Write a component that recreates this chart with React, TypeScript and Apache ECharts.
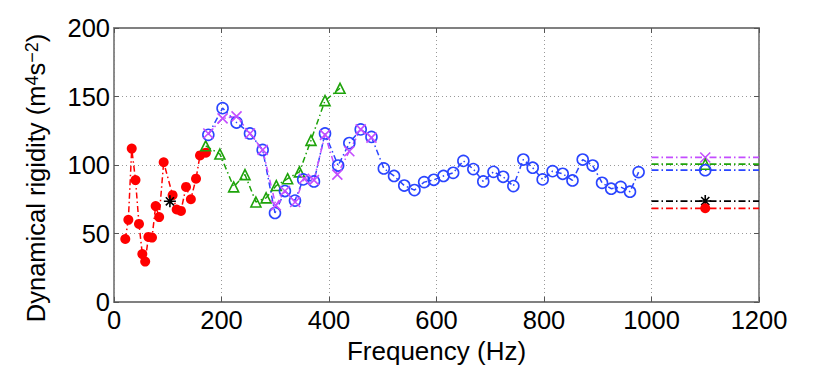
import React, { useEffect, useRef } from "react";
import * as echarts from "echarts";

const xTicks = { min: 0, max: 1200, interval: 200 };
const yTicks = { min: 0, max: 200, interval: 50 };

const redData: [number, number][] = [
  [21, 46], [26.7, 60], [33, 112], [40, 89], [46.5, 57], [52.7, 35], [58, 29.5],
  [64, 47.5], [70.7, 47], [77.5, 70], [84, 62], [92.4, 102], [109, 78], [116.6, 67.5],
  [124.6, 66.5], [134, 84], [143, 75], [152.6, 90], [160, 107], [171, 109],
];
const greenData: [number, number][] = [
  [170.6, 114], [197, 108], [222.6, 84], [243.7, 93], [264, 73], [283, 76],
  [302, 85], [323, 90], [345, 95], [366.5, 118], [392.6, 147], [420.5, 156],
];
const blueData: [number, number][] = [
  [175.5, 122], [202, 141.5], [228, 131], [253, 123], [276.6, 111], [299.5, 65],
  [318, 81], [336.7, 74], [352, 89.5], [372, 88], [392.6, 123], [417, 99.6],
  [437.8, 116], [459, 126], [479, 120.5], [502, 97.5], [521, 92], [540, 85],
  [559, 81.7], [577, 87.5], [595, 89.2], [613, 92], [631, 94.3], [650, 103],
  [668.5, 97], [687, 88], [706, 95], [724, 91.4], [743, 84.6], [761.5, 104],
  [779, 98], [797.5, 89.5], [816, 95.5], [834.8, 93.6], [853, 88.7], [872, 104],
  [890.6, 99.6], [908, 87], [925, 82.7], [942.7, 84], [960, 80.5], [976, 94.8],
];
const magentaData: [number, number][] = [
  [175.5, 123], [202, 134], [228, 135.5], [253, 123], [276.6, 111], [301, 70.5],
  [318, 81], [337, 73], [353.5, 90], [372, 89], [392.6, 122], [415.5, 93],
  [437.8, 110], [459, 126], [479, 120],
];
const blackData: [number, number][] = [[104, 73.5]];

const meanX = [1000, 1100, 1200];
const meanRed = 68.4;
const meanGreen = 100.6;
const meanBlue = 96.2;
const meanMagenta = 105.5;
const meanBlack = 73.7;

const RED = "#ff0000";
const GREEN = "#1ea30a";
const BLUE = "#2a45ff";
const MAGENTA = "#c44dff";
const BLACK = "#000000";

const DASHDOT = [6, 3, 1.5, 3];
const CROSS = "path://M0,0L10,10M10,0L0,10";
const STAR = "path://M5,0L5,10M0,5L10,5M1.6,1.6L8.4,8.4M8.4,1.6L1.6,8.4";

type Mk = { symbol: string; size: number; filled: boolean };

function mainSeries(data: [number, number][], color: string, mk: Mk) {
  return {
    type: "line",
    data,
    xAxisIndex: 0,
    yAxisIndex: 0,
    symbol: mk.symbol,
    symbolSize: mk.size,
    showSymbol: true,
    lineStyle: { color, width: 1.5, type: DASHDOT },
    itemStyle: {
      color: mk.filled ? color : "rgba(0,0,0,0)",
      borderColor: color,
      borderWidth: mk.filled ? 0 : 1.6,
    },
    emphasis: { disabled: true },
  };
}

function meanSeries(m: number, color: string, mk: Mk) {
  return {
    type: "line",
    data: meanX.map((x, i) =>
      i === 1 ? { value: [x, m] } : { value: [x, m], symbol: "none" }
    ),
    symbol: mk.symbol,
    symbolSize: mk.size,
    showSymbol: true,
    lineStyle: { color, width: 1.8, type: [7, 3, 1.5, 3] },
    itemStyle: {
      color: mk.filled ? color : "rgba(0,0,0,0)",
      borderColor: color,
      borderWidth: mk.filled ? 0 : 1.6,
    },
    emphasis: { disabled: true },
  };
}

const mkRed: Mk = { symbol: "circle", size: 10, filled: true };
const mkGreen: Mk = { symbol: "triangle", size: 10, filled: false };
const mkBlue: Mk = { symbol: "circle", size: 11, filled: false };
const mkMag: Mk = { symbol: CROSS, size: 10, filled: false };
const mkBlack: Mk = { symbol: STAR, size: 12, filled: false };

const FONT = "Liberation Sans";
const fmt = (v: number) => String(v);

export default function App() {
  const ref = useRef<HTMLDivElement>(null);
  useEffect(() => {
    if (!ref.current) return;
    const chart = echarts.init(ref.current, undefined, { renderer: "svg" });
    const axisLineStyle = { color: "#808080", width: 1.8 };
    const tickStyle = { color: "#555", width: 1 };
    chart.setOption({
      animation: false,
      backgroundColor: "#fff",
      grid: { left: 114, right: 71, top: 28, bottom: 68, containLabel: false },
      xAxis: [
        {
          type: "value",
          ...xTicks,
          position: "bottom",
          name: "Frequency (Hz)",
          nameLocation: "middle",
          nameGap: 33,
          nameTextStyle: { fontFamily: FONT, fontSize: 26, color: "#000" },
          axisLine: { show: true, onZero: false, lineStyle: axisLineStyle },
          axisTick: { show: true, inside: true, length: 5, lineStyle: tickStyle },
          axisLabel: { fontFamily: FONT, fontSize: 25.5, color: "#000", margin: 5, formatter: fmt },
          splitLine: { show: true, lineStyle: { color: "#999", width: 1, type: [1, 3] } },
        },
        {
          type: "value",
          ...xTicks,
          position: "top",
          axisLine: { show: true, onZero: false, lineStyle: axisLineStyle },
          axisTick: { show: true, inside: true, length: 5, lineStyle: tickStyle },
          axisLabel: { show: false },
          splitLine: { show: false },
        },
      ],
      yAxis: [
        {
          type: "value",
          ...yTicks,
          position: "left",
          name: "{a|Dynamical rigidity (m}{s|4}{a|s}{s|−2}{a|)}",
          nameLocation: "middle",
          nameGap: 66,
          nameTextStyle: {
            fontFamily: FONT,
            fontSize: 25,
            color: "#000",
            padding: [0, 26, 0, 0],
            rich: {
              a: { fontFamily: FONT, fontSize: 25.5, color: "#000", lineHeight: 25 },
              s: { fontFamily: FONT, fontSize: 18, color: "#000", lineHeight: 18, verticalAlign: "top" },
            },
          },
          axisLine: { show: true, onZero: false, lineStyle: axisLineStyle },
          axisTick: { show: true, inside: true, length: 5, lineStyle: tickStyle },
          axisLabel: { fontFamily: FONT, fontSize: 25.5, color: "#000", margin: 4, formatter: fmt },
          splitLine: { show: true, lineStyle: { color: "#999", width: 1, type: [1, 3] } },
        },
        {
          type: "value",
          ...yTicks,
          position: "right",
          axisLine: { show: true, onZero: false, lineStyle: axisLineStyle },
          axisTick: { show: true, inside: true, length: 5, lineStyle: tickStyle },
          axisLabel: { show: false },
          splitLine: { show: false },
        },
      ],
      series: [
        mainSeries(redData, RED, mkRed),
        mainSeries(greenData, GREEN, mkGreen),
        mainSeries(blueData, BLUE, mkBlue),
        mainSeries(magentaData, MAGENTA, mkMag),
        mainSeries(blackData, BLACK, mkBlack),
        meanSeries(meanMagenta, MAGENTA, mkMag),
        meanSeries(meanGreen, GREEN, mkGreen),
        meanSeries(meanBlue, BLUE, mkBlue),
        meanSeries(meanBlack, BLACK, mkBlack),
        meanSeries(meanRed, RED, mkRed),
      ],
    });
    return () => chart.dispose();
  }, []);
  return (
    <div
      ref={ref}
      style={{ position: "fixed", left: 0, top: 0, width: 830, height: 370 }}
    />
  );
}
